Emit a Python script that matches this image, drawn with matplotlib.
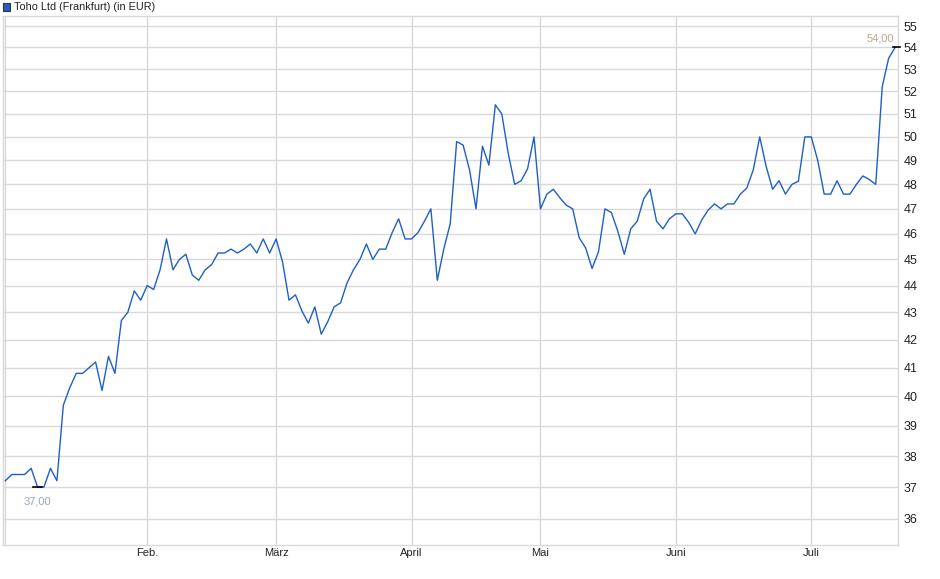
import matplotlib
matplotlib.use("Agg")
import matplotlib.pyplot as plt
from matplotlib.ticker import FixedLocator, NullLocator, FuncFormatter

plt.rcParams['font.family'] = ['Liberation Sans', 'DejaVu Sans']

# daily closing prices (EUR), one per trading day
prices = [
    37.2, 37.4, 37.4, 37.4, 37.6, 37.0, 37.0, 37.6, 37.2, 39.7,
    40.3, 40.8, 40.8, 41.0, 41.2, 40.2, 41.4, 40.8, 42.7, 43.0,
    43.8, 43.45, 44.0, 43.85, 44.6, 45.8, 44.6, 45.0, 45.2, 44.4,
    44.2, 44.6, 44.8, 45.25, 45.25, 45.4, 45.25, 45.4, 45.6, 45.25,
    45.8, 45.25, 45.8, 44.9, 43.45, 43.65, 43.05, 42.6, 43.2, 42.2,
    42.65, 43.2, 43.35, 44.1, 44.6, 45.0, 45.6, 45.0, 45.4, 45.4,
    46.05, 46.6, 45.8, 45.8, 46.05, 46.5, 47.0, 44.2, 45.4, 46.4,
    49.8, 49.65, 48.6, 47.0, 49.6, 48.8, 51.4, 51.0, 49.3, 48.0,
    48.15, 48.65, 50.0, 47.0, 47.6, 47.8, 47.45, 47.15, 47.0, 45.85,
    45.45, 44.65, 45.3, 47.0, 46.85, 46.1, 45.2, 46.2, 46.5, 47.4,
    47.8, 46.5, 46.2, 46.6, 46.8, 46.8, 46.45, 46.0, 46.55, 46.95,
    47.2, 47.0, 47.2, 47.2, 47.6, 47.85, 48.6, 50.0, 48.75, 47.8,
    48.15, 47.6, 48.0, 48.13, 50.0, 50.0, 49.0, 47.6, 47.6, 48.15,
    47.6, 47.6, 48.0, 48.35, 48.2, 48.0, 52.2, 53.5, 54.0,
]

# first trading day of each month (index into prices)
month_idx = [0, 22, 42, 63, 83, 104, 125]
month_labels = ['', 'Feb.', 'März', 'April', 'Mai', 'Juni', 'Juli']
y_ticks = list(range(36, 56))

fig = plt.figure(figsize=(9.4, 5.79), dpi=100)
ax = fig.add_axes([3 / 940, 1 - 545 / 579, 895 / 940, 529 / 579])

x = list(range(len(prices)))
ax.plot(x, prices, color='#1f5fc6', lw=1.0, zorder=3)

ax.set_yscale('log')
ax.set_ylim(35.2, 55.48)
ax.set_xlim(-0.36, 138.45)

ax.yaxis.set_major_locator(FixedLocator(y_ticks))
ax.yaxis.set_minor_locator(NullLocator())
ax.yaxis.set_major_formatter(FuncFormatter(lambda v, p: '%d' % round(v)))
ax.yaxis.tick_right()
ax.tick_params(axis='y', length=0, pad=4, labelsize=9, colors='#222222')

ax.set_xticks(month_idx)
ax.set_xticklabels(month_labels)
ax.tick_params(axis='x', length=0, pad=2.5, labelsize=8, colors='#222222')

ax.grid(True, color='#d9d9d9', lw=1.0, zorder=0)
for s in ax.spines.values():
    s.set_color('#d9d9d9')
    s.set_linewidth(1.0)

# min / last markers
vmin = min(prices)
imin = prices.index(vmin)
ax.plot([imin - 0.7, imin + 0.7], [vmin, vmin], color='black', lw=1.2, zorder=4)
ax.annotate('37,00', (imin, vmin), xytext=(0, -7), textcoords='offset points',
            ha='center', va='top', fontsize=8, color='#9aa6b8')
ilast = len(prices) - 1
ax.plot([ilast - 0.4, ilast + 0.7], [prices[-1], prices[-1]], color='black', lw=1.2,
        zorder=4, clip_on=False)
ax.annotate('54,00', (ilast, prices[-1]), xytext=(-1, 3), textcoords='offset points',
            ha='right', va='bottom', fontsize=8, color='#bba88f')

# legend box at top left
fig.patches.append(plt.Rectangle((3 / 940, 1 - 11 / 579), 7 / 940, 8 / 579,
                                 transform=fig.transFigure, facecolor='#1f5fc6',
                                 edgecolor='#333333', lw=0.8))
fig.text(14 / 940, 1 - 6.5 / 579, 'Toho Ltd (Frankfurt) (in EUR)', fontsize=7.8,
         va='center', ha='left', color='#222222')

fig.savefig('out.png', dpi=100)
